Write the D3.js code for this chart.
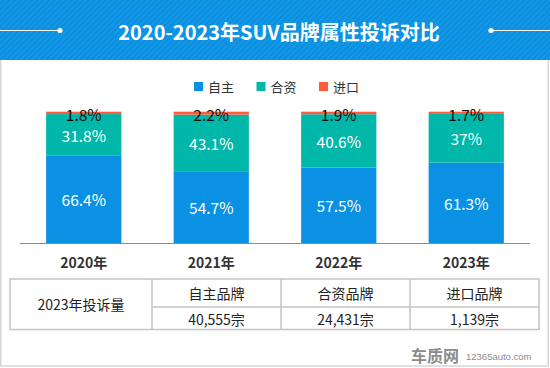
<!DOCTYPE html>
<html>
<head>
<meta charset="utf-8">
<script src="https://cdn.jsdelivr.net/npm/d3@7"></script>
<style>
  html, body { margin: 0; padding: 0; background: #fff; }
  svg { display: block; font-family: "Noto Sans CJK SC", "Noto Sans", sans-serif; }
</style>
</head>
<body>
<div id="chart"></div>
<script>
// chart data
var years = ["2020年", "2021年", "2022年", "2023年"];
var seriesNames = ["自主", "合资", "进口"];
var domestic = [66.4, 54.7, 57.5, 61.3];
var joint = [31.8, 43.1, 40.6, 37];
var imported = [1.8, 2.2, 1.9, 1.7];
var colors = ["#0a91e3", "#00b7a9", "#ff5b3d"];

// table data
var tableTitle = "2023年投诉量";
var tableHeads = ["自主品牌", "合资品牌", "进口品牌"];
var complaints = [40555, 24431, 1139];

var width = 550;
var height = 368;

var svg = d3.select("#chart")
    .append("svg")
    .attr("width", width)
    .attr("height", height);

// header band with faint diagonal stripes
var defs = svg.append("defs");
var pat = defs.append("pattern")
    .attr("id", "stripes")
    .attr("width", 4)
    .attr("height", 4)
    .attr("patternUnits", "userSpaceOnUse")
    .attr("patternTransform", "rotate(45)");
pat.append("rect").attr("width", 4).attr("height", 4).attr("fill", "#0a8fe0");
pat.append("rect").attr("width", 1.5).attr("height", 4).attr("fill", "#179ae6");

// white frame under header
svg.append("rect")
    .attr("x", 0.75).attr("y", 59)
    .attr("width", 547.5).attr("height", 307)
    .attr("fill", "#fff")
    .attr("stroke", "#d6d6d6")
    .attr("stroke-width", 1.5);

svg.append("rect")
    .attr("x", 0).attr("y", 0)
    .attr("width", width).attr("height", 60)
    .attr("fill", "url(#stripes)");

// title and side lines
svg.append("line")
    .attr("x1", 0).attr("x2", 60).attr("y1", 30.5).attr("y2", 30.5)
    .attr("stroke", "#fff").attr("stroke-width", 1.2);
svg.append("circle").attr("cx", 60).attr("cy", 30.5).attr("r", 2.6).attr("fill", "#fff");
svg.append("line")
    .attr("x1", 491).attr("x2", 550).attr("y1", 30.5).attr("y2", 30.5)
    .attr("stroke", "#fff").attr("stroke-width", 1.2);
svg.append("circle").attr("cx", 491).attr("cy", 30.5).attr("r", 2.6).attr("fill", "#fff");

svg.append("text")
    .attr("x", 279).attr("y", 31)
    .attr("text-anchor", "middle")
    .attr("dominant-baseline", "central")
    .attr("fill", "#fff")
    .attr("font-size", 20)
    .attr("font-weight", "bold")
    .text("2020-2023年SUV品牌属性投诉对比");

// scales
var x = d3.scaleBand()
    .domain(years)
    .range([20, 530])
    .paddingInner(0.41)
    .paddingOuter(0.205);

var y = d3.scaleLinear()
    .domain([0, 100])
    .range([243, 111.7]);

var rows = years.map(function (yr, i) {
    return { year: yr, "自主": domestic[i], "合资": joint[i], "进口": imported[i] };
});

var stacked = d3.stack().keys(seriesNames)(rows);

// legend
var legend = svg.append("g").attr("transform", "translate(194,86.5)");
seriesNames.forEach(function (name, i) {
    var item = legend.append("g").attr("transform", "translate(" + (i * 62.5) + ",0)");
    item.append("rect")
        .attr("x", 0).attr("y", -4.5)
        .attr("width", 9).attr("height", 9)
        .attr("fill", colors[i]);
    item.append("text")
        .attr("x", 14).attr("y", 0)
        .attr("dominant-baseline", "central")
        .attr("font-size", 13)
        .attr("fill", "#333")
        .text(name);
});

// bars
var layers = svg.append("g").selectAll("g")
    .data(stacked)
    .enter()
    .append("g")
    .attr("fill", function (d, i) { return colors[i]; });

layers.selectAll("rect")
    .data(function (d) { return d; })
    .enter()
    .append("rect")
    .attr("x", function (d) { return x(d.data.year); })
    .attr("y", function (d) { return y(d[1]); })
    .attr("width", x.bandwidth())
    .attr("height", function (d) { return y(d[0]) - y(d[1]); });

// value labels
stacked.forEach(function (layer, li) {
    svg.append("g").selectAll("text")
        .data(layer)
        .enter()
        .append("text")
        .attr("x", function (d) { return x(d.data.year) + x.bandwidth() / 2; })
        .attr("y", function (d) { return (y(d[0]) + y(d[1])) / 2 + (li === 2 ? 1 : 0); })
        .attr("text-anchor", "middle")
        .attr("dominant-baseline", "central")
        .attr("font-size", 15.5)
        .attr("fill", li === 2 ? "#111" : "#fff")
        .text(function (d) { return d.data[layer.key] + "%"; });
});

// x axis
var xAxis = svg.append("g")
    .attr("transform", "translate(0,243)")
    .call(d3.axisBottom(x).tickSize(0).tickPadding(0));
xAxis.select(".domain").attr("stroke", "#8a8a8a").attr("d", "M20,0.5H530");
xAxis.selectAll("text")
    .attr("y", 18.5)
    .attr("dy", null)
    .attr("dominant-baseline", "central")
    .attr("font-family", "\"Noto Sans CJK SC\", sans-serif")
    .attr("font-size", 14)
    .attr("font-weight", "bold")
    .attr("fill", "#333");

// table
var colX = [10, 152, 281, 410, 539];
var rowTop = 279, rowMid = 307, rowBottom = 329.5;
var tbl = svg.append("g")
    .attr("stroke", "#c4c4c4")
    .attr("stroke-width", 1.5)
    .attr("fill", "none");

tbl.append("rect")
    .attr("x", colX[0]).attr("y", rowTop)
    .attr("width", colX[4] - colX[0]).attr("height", rowBottom - rowTop);
colX.slice(1, 4).forEach(function (cx) {
    tbl.append("line").attr("x1", cx).attr("x2", cx).attr("y1", rowTop).attr("y2", rowBottom);
});
tbl.append("line").attr("x1", colX[1]).attr("x2", colX[4]).attr("y1", rowMid).attr("y2", rowMid);

var tt = svg.append("g")
    .attr("font-size", 14)
    .attr("fill", "#222")
    .attr("text-anchor", "middle");

tt.append("text")
    .attr("x", (colX[0] + colX[1]) / 2).attr("y", 304)
    .attr("dominant-baseline", "central")
    .text(tableTitle);

var fmt = d3.format(",");
tableHeads.forEach(function (h, i) {
    var cx = (colX[i + 1] + colX[i + 2]) / 2;
    tt.append("text")
        .attr("x", cx).attr("y", 292.5)
        .attr("dominant-baseline", "central")
        .text(h);
    tt.append("text")
        .attr("x", cx).attr("y", 319)
        .attr("dominant-baseline", "central")
        .text(fmt(complaints[i]) + "宗");
});

// watermark
svg.append("text")
    .attr("x", 411).attr("y", 355)
    .attr("dominant-baseline", "central")
    .attr("font-size", 16)
    .attr("font-weight", "bold")
    .attr("fill", "#8c8c8c")
    .text("车质网");
svg.append("text")
    .attr("x", 466).attr("y", 356)
    .attr("dominant-baseline", "central")
    .attr("font-family", "\"Liberation Sans\", sans-serif")
    .attr("font-size", 9.5)
    .attr("fill", "#8c8c8c")
    .text("12365auto.com");
</script>
</body>
</html>
